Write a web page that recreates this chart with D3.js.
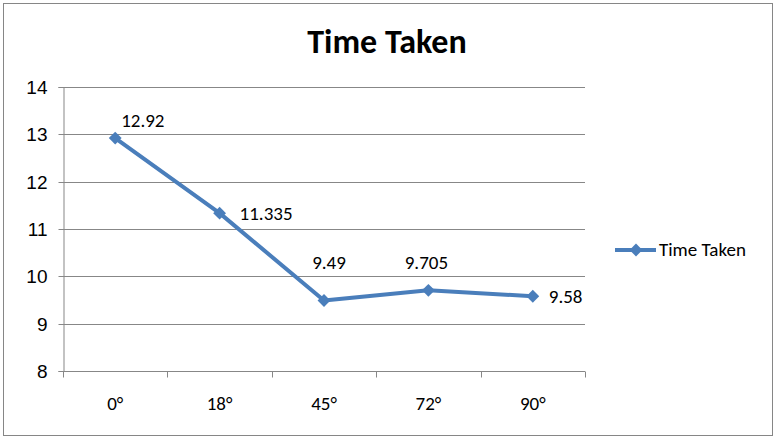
<!DOCTYPE html>
<html>
<head>
<meta charset="utf-8">
<script src="https://cdn.jsdelivr.net/npm/d3@7"></script>
<style>
  body { margin: 0; background: #fff; }
  svg { font-family: Carlito, Lato, "Liberation Sans", sans-serif; }
</style>
</head>
<body>
<div id="chart-area"></div>
<script>
const categories = ["0°", "18°", "45°", "72°", "90°"]
const timeTaken = [12.92, 11.335, 9.49, 9.705, 9.58]
const yTicks = [8, 9, 10, 11, 12, 13, 14]
const seriesName = "Time Taken"

// label offsets from each point (dx, dy, anchor)
const labelPos = [
    { dx: 6, dy: -11, anchor: "start" },
    { dx: 20, dy: 7, anchor: "start" },
    { dx: 5, dy: -31, anchor: "middle" },
    { dx: -2, dy: -21, anchor: "middle" },
    { dx: 16, dy: 7, anchor: "start" }
]

const W = 777, H = 438
const MARGIN = { LEFT: 63, RIGHT: 192, TOP: 87, BOTTOM: 67 }
const WIDTH = W - MARGIN.LEFT - MARGIN.RIGHT
const HEIGHT = H - MARGIN.TOP - MARGIN.BOTTOM
const BLUE = "#4a7ebb"
const GRID = "#878787"
const FS = "19px"

const svg = d3.select("#chart-area").append("svg")
    .attr("width", W)
    .attr("height", H)

// outer chart border
svg.append("rect")
    .attr("x", 3.5).attr("y", 3.5)
    .attr("width", 769).attr("height", 432)
    .attr("fill", "#fff")
    .attr("stroke", "#868686")
    .attr("stroke-width", 1)

svg.append("text")
    .attr("x", 387)
    .attr("y", 53)
    .attr("text-anchor", "middle")
    .attr("font-size", "34px")
    .attr("font-weight", "bold")
    .text("Time Taken")

const g = svg.append("g")
    .attr("transform", `translate(${MARGIN.LEFT}, ${MARGIN.TOP})`)

// Scales
const x = d3.scaleBand()
    .domain(categories)
    .range([0, WIDTH])

const y = d3.scaleLinear()
    .domain([8, 14])
    .range([HEIGHT, 0])

// gridlines
g.append("g")
    .selectAll("line")
    .data(yTicks.slice(1))
    .enter().append("line")
    .attr("x1", 0).attr("x2", WIDTH)
    .attr("y1", d => Math.round(y(d)) + 0.5)
    .attr("y2", d => Math.round(y(d)) + 0.5)
    .attr("stroke", GRID)

// Y Axis
const yAxisCall = d3.axisLeft(y)
    .tickValues(yTicks)
    .tickSize(5)
    .tickPadding(11)
    .tickFormat(d3.format("d"))
const yAxis = g.append("g")
    .attr("transform", "translate(0.5, 0)")
    .call(yAxisCall)
yAxis.select(".domain").attr("stroke", GRID)
yAxis.selectAll(".tick line").attr("stroke", GRID)
yAxis.selectAll(".tick").attr("transform", d => `translate(0, ${Math.round(y(d)) + 0.5})`)
yAxis.selectAll("text")
    .attr("font-size", FS)
    .attr("font-family", null)
    .attr("fill", "#000")

// X Axis with ticks at category boundaries
const xAxis = g.append("g")
    .attr("transform", `translate(0, ${Math.round(HEIGHT) + 0.5})`)
xAxis.append("line")
    .attr("x1", 0).attr("x2", WIDTH)
    .attr("stroke", GRID)
xAxis.selectAll(".bound")
    .data(categories.concat([null]))
    .enter().append("line")
    .attr("class", "bound")
    .attr("x1", (d, i) => Math.round(i * x.step()) + 0.5)
    .attr("x2", (d, i) => Math.round(i * x.step()) + 0.5)
    .attr("y1", 0).attr("y2", 6)
    .attr("stroke", GRID)
xAxis.selectAll(".lbl")
    .data(categories)
    .enter().append("text")
    .attr("class", "lbl")
    .attr("x", d => x(d) + x.bandwidth() / 2)
    .attr("y", 38)
    .attr("text-anchor", "middle")
    .attr("font-size", FS)
    .text(d => d)

// Line
const pts = categories.map((c, i) => ({ c, v: timeTaken[i], i }))
const line = d3.line()
    .x(d => x(d.c) + x.bandwidth() / 2)
    .y(d => y(d.v))

g.append("path")
    .datum(pts)
    .attr("d", line)
    .attr("fill", "none")
    .attr("stroke", BLUE)
    .attr("stroke-width", 4)
    .attr("stroke-linejoin", "round")

const diamond = d3.symbol().type(d3.symbolDiamond2).size(105)
g.selectAll(".marker")
    .data(pts)
    .enter().append("path")
    .attr("class", "marker")
    .attr("d", diamond)
    .attr("transform", d => `translate(${x(d.c) + x.bandwidth() / 2}, ${y(d.v)})`)
    .attr("fill", BLUE)

// data labels
g.selectAll(".dlabel")
    .data(pts)
    .enter().append("text")
    .attr("class", "dlabel")
    .attr("x", d => x(d.c) + x.bandwidth() / 2 + labelPos[d.i].dx)
    .attr("y", d => y(d.v) + labelPos[d.i].dy)
    .attr("text-anchor", d => labelPos[d.i].anchor)
    .attr("font-size", FS)
    .text(d => d.v)

// Legend
const legend = svg.append("g")
    .attr("transform", "translate(615, 250)")
legend.append("line")
    .attr("x1", 0).attr("x2", 41)
    .attr("stroke", BLUE)
    .attr("stroke-width", 4)
legend.append("path")
    .attr("d", diamond)
    .attr("transform", "translate(21, 0)")
    .attr("fill", BLUE)
legend.append("text")
    .attr("x", 44)
    .attr("y", 6)
    .attr("font-size", FS)
    .text(seriesName)
</script>
</body>
</html>
